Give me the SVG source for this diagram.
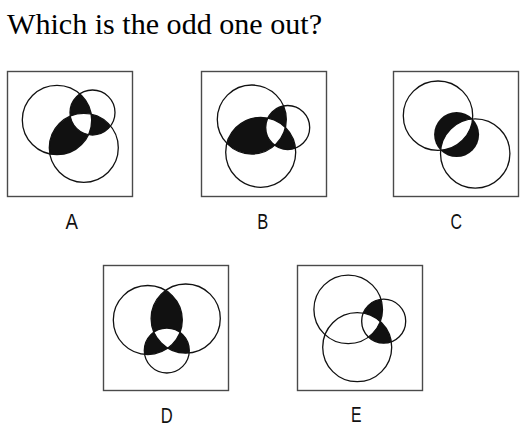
<svg xmlns="http://www.w3.org/2000/svg" width="532" height="427" viewBox="0 0 532 427">
<style>
.box{fill:#fff;stroke:#4a4a4a;stroke-width:1.4}
.c{fill:none;stroke:#111;stroke-width:1.3}
.blk{fill:#111}
.wht{fill:#fff}
.lbl{font-family:"Liberation Sans",Arial,sans-serif;font-size:22px;fill:#111;text-anchor:middle}
.title{font-family:"Liberation Serif","Times New Roman",serif;font-size:30px;fill:#000}
</style>
<defs>
<clipPath id="aL"><circle cx="57" cy="120" r="34.7"/></clipPath>
<clipPath id="aS"><circle cx="92.5" cy="112.5" r="22.5"/></clipPath>
<clipPath id="bL"><circle cx="251.8" cy="119.5" r="34.5"/></clipPath>
<clipPath id="bS"><circle cx="287.7" cy="127.5" r="22"/></clipPath>
<clipPath id="cL"><circle cx="438" cy="115.7" r="34.7"/></clipPath>
<clipPath id="cR"><circle cx="475.2" cy="153.5" r="34.7"/></clipPath>
<clipPath id="dL"><circle cx="147.8" cy="320" r="34.5"/></clipPath>
<clipPath id="dR"><circle cx="185.7" cy="318.6" r="34.6"/></clipPath>
<clipPath id="eL"><circle cx="348.2" cy="309.4" r="34.3"/></clipPath>
<clipPath id="eS"><circle cx="383.7" cy="321.2" r="22"/></clipPath>
</defs>
<rect width="532" height="427" fill="#fff"/>
<text class="title" x="7" y="34" textLength="315" lengthAdjust="spacingAndGlyphs">Which is the odd one out?</text>

<g id="panelA">
<rect class="box" x="7.5" y="71.5" width="125" height="125"/>
<g clip-path="url(#aL)"><circle class="blk" cx="92.5" cy="112.5" r="22.5"/><circle class="blk" cx="83.8" cy="147.8" r="34.5"/></g>
<g clip-path="url(#aS)"><circle class="blk" cx="83.8" cy="147.8" r="34.5"/></g>
<g clip-path="url(#aL)"><g clip-path="url(#aS)"><circle class="wht" cx="83.8" cy="147.8" r="34.5"/></g></g>
<circle class="c" cx="57" cy="120" r="34.7"/>
<circle class="c" cx="92.5" cy="112.5" r="22.5"/>
<circle class="c" cx="83.8" cy="147.8" r="34.5"/>
<text class="lbl" x="71.7" y="228.5" textLength="12.5" lengthAdjust="spacingAndGlyphs">A</text>
</g>

<g id="panelB">
<rect class="box" x="201.5" y="71.5" width="125" height="125"/>
<g clip-path="url(#bL)"><circle class="blk" cx="287.7" cy="127.5" r="22"/><circle class="blk" cx="260.7" cy="152.3" r="35"/></g>
<g clip-path="url(#bS)"><circle class="blk" cx="260.7" cy="152.3" r="35"/></g>
<g clip-path="url(#bL)"><g clip-path="url(#bS)"><circle class="wht" cx="260.7" cy="152.3" r="35"/></g></g>
<circle class="c" cx="251.8" cy="119.5" r="34.5"/>
<circle class="c" cx="287.7" cy="127.5" r="22"/>
<circle class="c" cx="260.7" cy="152.3" r="35"/>
<text class="lbl" x="262.8" y="228.5" textLength="11" lengthAdjust="spacingAndGlyphs">B</text>
</g>

<g id="panelC">
<rect class="box" x="393.5" y="71.5" width="125" height="125"/>
<circle class="blk" cx="456.6" cy="134.6" r="22.5"/>
<g clip-path="url(#cL)"><circle class="wht" clip-path="url(#cR)" cx="456.6" cy="134.6" r="22.5"/></g>
<circle class="c" cx="438" cy="115.7" r="34.7"/>
<circle class="c" cx="475.2" cy="153.5" r="34.7"/>
<text class="lbl" x="456.3" y="228.5" textLength="11.5" lengthAdjust="spacingAndGlyphs">C</text>
</g>

<g id="panelD">
<rect class="box" x="103.5" y="265.5" width="125" height="125"/>
<g clip-path="url(#dL)"><circle class="blk" cx="185.7" cy="318.6" r="34.6"/><circle class="blk" cx="166.8" cy="350.5" r="22.5"/></g>
<g clip-path="url(#dR)"><circle class="blk" cx="166.8" cy="350.5" r="22.5"/></g>
<g clip-path="url(#dL)"><g clip-path="url(#dR)"><circle class="wht" cx="166.8" cy="350.5" r="22.5"/></g></g>
<circle class="c" cx="147.8" cy="320" r="34.5"/>
<circle class="c" cx="185.7" cy="318.6" r="34.6"/>
<circle class="c" cx="166.8" cy="350.5" r="22.5"/>
<text class="lbl" x="166.7" y="423.3" textLength="12" lengthAdjust="spacingAndGlyphs">D</text>
</g>

<g id="panelE">
<rect class="box" x="297.5" y="265.5" width="125" height="125"/>
<g clip-path="url(#eS)"><circle class="blk" cx="348.2" cy="309.4" r="34.3"/><circle class="blk" cx="357.2" cy="347.2" r="34.5"/></g>
<g clip-path="url(#eL)"><g clip-path="url(#eS)"><circle class="wht" cx="357.2" cy="347.2" r="34.5"/></g></g>
<circle class="c" cx="348.2" cy="309.4" r="34.3"/>
<circle class="c" cx="383.7" cy="321.2" r="22"/>
<circle class="c" cx="357.2" cy="347.2" r="34.5"/>
<text class="lbl" x="356.3" y="422.2" textLength="10.5" lengthAdjust="spacingAndGlyphs">E</text>
</g>
</svg>
